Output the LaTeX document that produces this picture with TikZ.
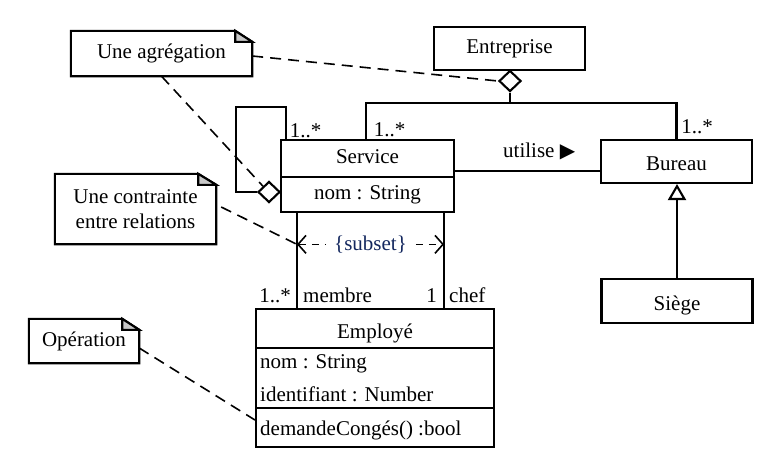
\documentclass[tikz,border=0pt]{standalone}
\usepackage{fontspec}
\setmainfont{Liberation Serif}
\newfontfamily\symfont{DejaVu Sans}
\usetikzlibrary{shapes.geometric,arrows.meta,calc}
\definecolor{subsetblue}{RGB}{20,40,95}
\definecolor{foldgray}{RGB}{200,200,200}
\newcommand\notefold[3]{%
  \draw[ln] (#1.north west) -- ([xshift=-#2pt]#1.north east) -- ([yshift=-#3pt]#1.north east) -- (#1.south east) -- (#1.south west) -- cycle;
  \filldraw[ln, fill=foldgray] ([xshift=-#2pt]#1.north east) -- ([xshift=-#2pt,yshift=-#3pt]#1.north east) -- ([yshift=-#3pt]#1.north east) -- cycle;}
\begin{document}
\begin{tikzpicture}[x=1pt,y=-1pt,
  every node/.style={font=\fontsize{21}{25}\selectfont, inner sep=0pt},
  ln/.style={line width=2.1pt},
  box/.style={draw, ln, rectangle, text height=14pt, text depth=4pt},
  notebox/.style={rectangle, align=center},
  dsh/.style={line width=1.6pt, dash pattern=on 11pt off 7pt},
  agg/.style={diamond, draw, ln, fill=white, minimum width=22pt, minimum height=21pt},
  lbl/.style={anchor=base}
]
\useasboundingbox (0,0) rectangle (781,466);

% classes
\node[box, minimum width=151pt, minimum height=43pt] (ent) at (509.5,48.5) {Entreprise};
\node[box, minimum width=173pt, minimum height=37pt] (servT) at (367.5,158.5) {Service};
\node[box, minimum width=173pt, minimum height=35pt] (servA) at (367.5,194.5) {nom : String};
\node[box, minimum width=151pt, minimum height=43pt] (bur) at (676.5,161.5) {\raisebox{-4pt}{Bureau}};
\node[box, minimum width=151pt, minimum height=44pt] (sieg) at (677,301) {\raisebox{-4pt}{Siège}};
\node[box, minimum width=238pt, minimum height=39pt] (empT) at (375,328.5) {\raisebox{-5pt}{Employé}};
\node[box, minimum width=238pt, minimum height=60pt] (empA) at (375,378) {};
\node[box, minimum width=238pt, minimum height=39pt] (empO) at (375,427.5) {};
\node[anchor=base west] (ea1) at (260,368) {nom : String};
\node[anchor=base west] (ea2) at (260,401) {identifiant : Number};
\node[anchor=base west] (eo1) at (260,435) {demandeCongés() :bool};

% notes
\node[notebox, minimum width=181pt, minimum height=45pt] (n1) at (161.5,53.5) {Une agrégation};
\notefold{n1}{17}{11}
\node[notebox, minimum width=161pt, minimum height=70pt] (n2) at (135.5,209) {Une contrainte\\entre relations};
\notefold{n2}{18}{11}
\node[notebox, minimum width=110pt, minimum height=44pt] (n3) at (84,341) {Opération};
\notefold{n3}{17}{11}

% aggregation diamonds
\node[agg] (d1) at (510,81) {};
\node[agg] (d2) at (269,192) {};

% Entreprise aggregation
\coordinate (jn) at (510,103);
\draw[ln] (d1.south) -- (jn);
\draw[ln] ([xshift=86pt]servT.north west) |- (jn) -| (bur.north);

% self loop
\coordinate (lp) at (236,107);
\draw[ln] ([xshift=6pt]servT.north west) |- (lp) |- (d2.west);

% utilise
\coordinate (ub) at ([yshift=-9.5pt]bur.west);
\draw[ln] (ub) -- (ub -| servT.east);
\node[anchor=base west] (util) at (503,157) {utilise {\symfont\fontsize{20}{22}\selectfont ▶}};

% generalization
\draw[ln, -{Triangle[open, length=16pt, width=18pt]}] (sieg.north) -- (sieg.north |- bur.south);

% membre / chef
\coordinate (m1) at ([xshift=17pt]servA.south west);
\coordinate (m2) at (m1 |- empT.north);
\coordinate (c1) at ([xshift=-11pt]servA.south east);
\coordinate (c2) at (c1 |- empT.north);
\draw[ln] (m1) -- (m2);
\draw[ln] (c1) -- (c2);
\coordinate (s1) at ($(m1)!0.33!(m2)$);
\coordinate (s2) at (s1 -| c1);
\draw[line width=1.6pt, dash pattern=on 7pt off 6pt, {Straight Barb[length=8pt,width=18pt]}-{Straight Barb[length=8pt,width=18pt]}] (s1) -- node[fill=white, inner xsep=8pt, inner ysep=2pt, text=subsetblue, font=\fontsize{21}{24}\selectfont] (sub) {\{subset\}} (s2);

% note connectors
\draw[dsh] ([yshift=-2.5pt]n1.east) -- (d1.west);
\draw[dsh] (n1.south) -- (d2.north west);
\draw[dsh] ([xshift=5pt,yshift=2pt]n2.east) -- (s1);
\draw[dsh] ([yshift=-7pt]n3.east) -- ([yshift=7.5pt]empO.west);

% multiplicities and roles
\node[lbl] (mu1) at (305.5,137) {1..*};
\node[lbl] (mu2) at (389.5,136) {1..*};
\node[lbl] (mu3) at (697,133) {1..*};
\node[anchor=base east] (mu4) at (291,302) {1..*};
\node[anchor=base west] (rm) at (303,302) {membre};
\node[anchor=base east] (mu5) at (437,302) {1};
\node[anchor=base west] (rc) at (449,302) {chef};
\end{tikzpicture}
\end{document}
